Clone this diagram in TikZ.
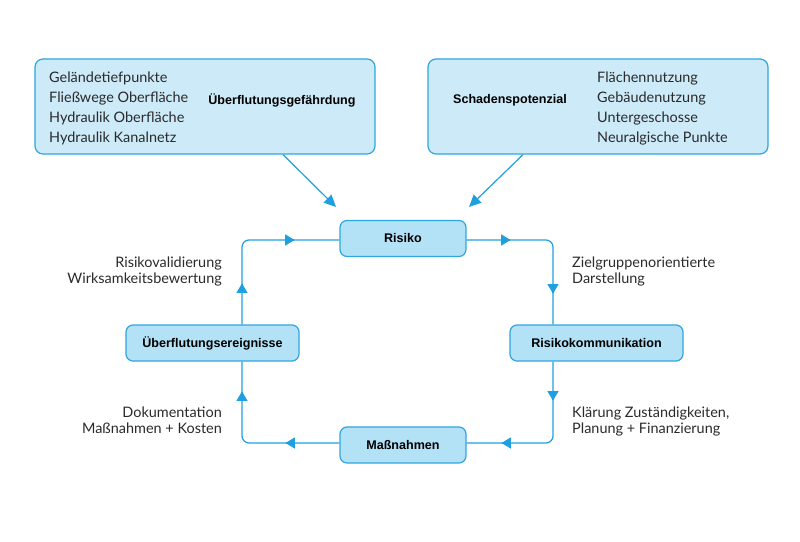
\documentclass[tikz,border=0pt]{standalone}
\usepackage{fontspec}
\setmainfont{Lato}
\newfontfamily\hdfont{Liberation Sans}
\usetikzlibrary{arrows.meta,decorations.markings}
\definecolor{linec}{HTML}{1E9FE0}
\definecolor{topfill}{HTML}{CDEAF8}
\definecolor{midfill}{HTML}{B3E1F6}
\definecolor{borderc}{HTML}{2EA6E0}
\definecolor{txt}{HTML}{2A2A2A}
\begin{document}
\begin{tikzpicture}[x=1bp,y=-1bp,
  topbox/.style={draw=borderc, fill=topfill, line width=1.2bp, rounded corners=8bp,
    minimum width=340bp, minimum height=95bp, inner sep=0},
  midbox/.style={draw=borderc, fill=midfill, line width=1.2bp, rounded corners=7bp,
    minimum height=36bp, inner sep=0, text=black,
    font=\hdfont\bfseries\fontsize{12.6}{14}\selectfont},
  heading/.style={inner sep=0, text=black, font=\hdfont\bfseries\fontsize{12.6}{14}\selectfont},
  item/.style={anchor=west, inner sep=0, text=txt, text height=10bp, text depth=3bp,
    font=\fontsize{14.5}{16}\selectfont},
  lbl/.style={inner sep=0, text=txt, font=\fontsize{14.5}{16}\selectfont},
  flowline/.style={draw=linec, line width=1.2bp, rounded corners=7bp},
  tri/.style={-{Triangle[length=9.5bp,width=11bp]}},
  diag/.style={draw=linec, line width=1.2bp, -{Triangle[length=12bp,width=11bp]}, color=linec},
]
\useasboundingbox (0,0) rectangle (800,542);

% top boxes
\node[topbox] (hz) at (205,106.5) {};
\node[topbox] (sp) at (598,106.5) {};
\node[item] (h1) at (49,79.5) {Geländetiefpunkte};
\node[item] (h2) at (49,99.5) {Fließwege Oberfläche};
\node[item] (h3) at (49,119.5) {Hydraulik Oberfläche};
\node[item] (h4) at (49,139.5) {Hydraulik Kanalnetz};
\node[heading] (hzt) at (282,100) {Überflutungsgefährdung};
\node[heading] (spt) at (510,100) {Schadenspotenzial};
\node[item] (s1) at (597,79.5) {Flächennutzung};
\node[item] (s2) at (597,99.5) {Gebäudenutzung};
\node[item] (s3) at (597,119.5) {Untergeschosse};
\node[item] (s4) at (597,139.5) {Neuralgische Punkte};

% middle boxes
\node[midbox, minimum width=126bp] (risiko) at (403,238.5) {Risiko};
\node[midbox, minimum width=173bp] (ue) at (212.5,343) {Überflutungsereignisse};
\node[midbox, minimum width=173bp] (rk) at (596.5,343) {Risikokommunikation};
\node[midbox, minimum width=126bp] (mn) at (403,445) {Maßnahmen};

% loop geometry
\coordinate (ctl) at (242,240);
\coordinate (cbr) at (553,443);

\draw[flowline, postaction={decorate}, decoration={markings,
   mark=at position 41bp with {\draw[linec,fill=linec,tri] (-1bp,0) -- (0,0);},
   mark=at position 134bp with {\draw[linec,fill=linec,tri] (-1bp,0) -- (0,0);}}]
  (ue.north -| ctl) |- (risiko.west |- ctl);
\draw[flowline, postaction={decorate}, decoration={markings,
   mark=at position 44bp with {\draw[linec,fill=linec,tri] (-1bp,0) -- (0,0);},
   mark=at position 137bp with {\draw[linec,fill=linec,tri] (-1bp,0) -- (0,0);}}]
  (risiko.east |- ctl) -| (rk.north -| cbr);
\draw[flowline, postaction={decorate}, decoration={markings,
   mark=at position 39bp with {\draw[linec,fill=linec,tri] (-1bp,0) -- (0,0);},
   mark=at position 130bp with {\draw[linec,fill=linec,tri] (-1bp,0) -- (0,0);}}]
  (rk.south -| cbr) |- (mn.east |- cbr);
\draw[flowline, postaction={decorate}, decoration={markings,
   mark=at position 54bp with {\draw[linec,fill=linec,tri] (-1bp,0) -- (0,0);},
   mark=at position 146bp with {\draw[linec,fill=linec,tri] (-1bp,0) -- (0,0);}}]
  (mn.west |- cbr) -| (ue.south -| ctl);

% diagonal arrows
\coordinate (t1) at (336,207);
\coordinate (t2) at (469,207);
\draw[diag] ([xshift=78bp]hz.south) -- (t1);
\draw[diag] ([xshift=-75bp]sp.south) -- (t2);

% labels
\node[lbl, anchor=east, align=right] (l1) at (222,271.5) {Risikovalidierung\\Wirksamkeitsbewertung};
\node[lbl, anchor=east, align=right] (l2) at (222,420.5) {Dokumentation\\Maßnahmen + Kosten};
\node[lbl, anchor=west, align=left] (l3) at (572,271.5) {Zielgruppenorientierte\\Darstellung};
\node[lbl, anchor=west, align=left] (l4) at (572,421.5) {Klärung Zuständigkeiten,\\Planung + Finanzierung};
\end{tikzpicture}
\end{document}
